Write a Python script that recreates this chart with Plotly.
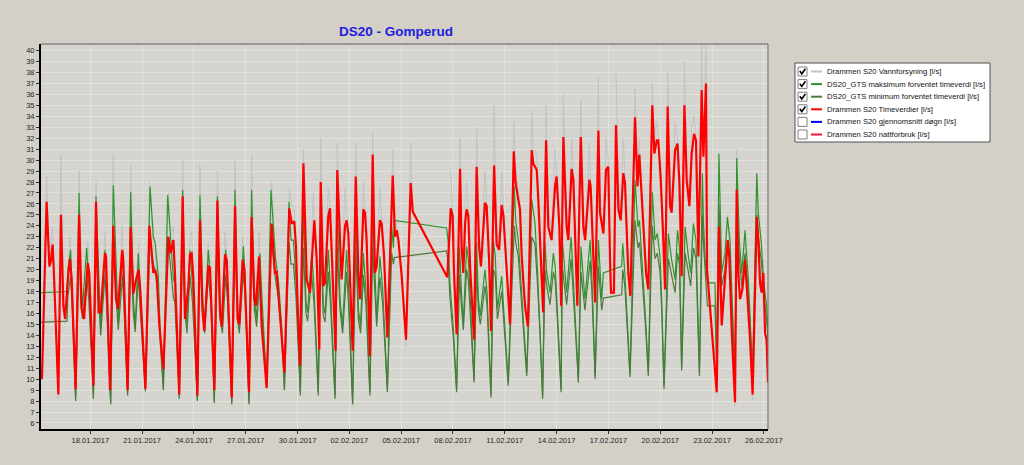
import plotly.graph_objects as go
from datetime import datetime, timedelta

# ---------------- DATA ----------------
# Time is given as a fractional day number: 1.0 = 01.01.2017 00:00, 32.0 = 01.02.2017 00:00
red_time = [
    15.20, 15.47, 15.63, 15.72, 15.82, 15.90,
    16.15, 16.30, 16.44, 16.54, 16.73, 16.82, 16.92,
    17.15, 17.35, 17.50, 17.64, 17.85, 17.94,
    18.18, 18.33, 18.48, 18.60, 18.85, 18.91,
    19.14, 19.33, 19.49, 19.60, 19.85, 19.91,
    20.16, 20.34, 20.49, 20.61, 20.80, 20.90,
    21.19, 21.42, 21.65, 21.75, 21.84, 22.00,
    22.23, 22.52, 22.65, 22.81, 22.90,
    23.15, 23.35, 23.48, 23.68, 23.77, 23.87, 23.97,
    24.20, 24.35, 24.49, 24.60, 24.83, 24.93,
    25.18, 25.36, 25.51, 25.61, 25.80, 25.90,
    26.19, 26.38, 26.53, 26.63, 26.82, 26.92,
    27.19, 27.34, 27.50, 27.59, 27.77, 27.92,
    28.21, 28.50, 28.69, 28.79, 28.98, 29.08,
    29.24, 29.52, 29.66, 29.81, 29.91, 30.00,
    30.14, 30.34, 30.53, 30.72, 30.91, 30.97, 31.11,
    31.26, 31.34, 31.49, 31.59, 31.78, 31.88, 31.98,
    32.20, 32.30, 32.46, 32.55, 32.75, 32.84, 32.94,
    33.19, 33.37, 33.52, 33.62, 33.81, 33.91, 34.00,
    34.19, 34.35, 34.48, 34.58, 34.77, 34.87, 35.01,
    35.20, 35.51, 35.64, 35.74, 35.84, 36.03, 36.16,
    36.28, 36.55, 36.67,
    38.67, 38.87, 38.98, 39.06,
    39.21, 39.41, 39.50, 39.60, 39.70, 39.79, 39.89, 39.99,
    40.22, 40.37, 40.51, 40.62, 40.85, 40.95, 41.09,
    41.20, 41.38, 41.53, 41.67, 41.82, 41.92, 42.05,
    42.30, 42.52, 42.62, 42.78, 42.88, 42.98, 43.17,
    43.34, 43.56, 43.65, 43.85, 43.94, 44.14,
    44.22, 44.39, 44.52, 44.71, 44.91, 45.00, 45.16,
    45.26, 45.39, 45.58, 45.68, 45.87, 45.97,
    46.20, 46.40, 46.55, 46.65, 46.90, 46.97,
    47.23, 47.42, 47.51, 47.71, 47.86, 47.99, 48.10, 48.15,
    48.32, 48.44, 48.58, 48.71, 48.86, 48.96, 49.15,
    49.27, 49.54, 49.68, 49.79, 49.87, 50.02, 50.18,
    50.31, 50.54, 50.66, 50.80, 50.89, 51.03, 51.18,
    51.28, 51.43, 51.57, 51.66, 51.86, 52.00, 52.11,
    52.24, 52.40, 52.53, 52.69, 52.82, 52.96, 53.07,
    53.21, 53.40, 53.50, 53.65, 53.71,
    54.27, 54.40, 54.56, 54.70, 54.91, 55.00, 55.15,
    55.33, 55.43, 55.52, 55.62, 55.76, 55.91, 56.01, 56.20,
    56.35, 56.59, 56.68, 56.78, 56.87, 56.97, 57.07, 57.16, 57.24,
]
# Drammen S20 Timeverdier [l/s]
red_value = [
    10.0, 26.2, 20.3, 20.8, 22.3, 19.4,
    8.6, 25.0, 16.7, 15.5, 19.7, 21.0, 19.1,
    9.1, 25.0, 16.4, 15.5, 20.6, 19.7,
    9.4, 26.2, 16.1, 16.1, 21.5, 21.2,
    9.0, 24.0, 17.3, 16.4, 21.8, 20.9,
    9.0, 23.9, 17.8, 18.8, 20.0, 18.0,
    9.1, 24.0, 19.7, 20.0, 19.4, 14.9,
    10.9, 23.0, 21.5, 22.7, 19.7,
    8.6, 26.7, 15.5, 18.5, 21.4, 21.5, 19.1,
    8.5, 24.5, 16.4, 14.4, 20.3, 20.2,
    9.0, 26.3, 16.1, 14.8, 21.4, 20.9,
    8.3, 25.8, 15.5, 15.0, 20.9, 20.0,
    8.8, 24.8, 17.3, 16.7, 21.2, 14.9,
    9.2, 24.2, 19.7, 19.8, 15.8, 13.6,
    10.6, 25.6, 24.2, 24.4, 22.1, 17.0,
    11.2, 29.7, 19.1, 17.9, 23.9, 24.5, 20.9,
    12.7, 28.0, 18.5, 18.8, 24.9, 25.6, 21.5,
    12.6, 29.1, 21.5, 19.1, 24.0, 24.5, 23.3,
    12.6, 28.5, 19.7, 17.3, 25.5, 25.2, 22.7,
    12.1, 30.5, 19.7, 20.3, 24.5, 24.2, 21.2,
    13.8, 28.6, 23.0, 23.6, 22.7, 19.4, 16.0,
    13.6, 27.9, 25.3,
    19.3, 25.6, 24.9, 19.7,
    14.1, 29.2, 22.1, 19.7, 24.2, 25.5, 24.9, 20.3,
    13.6, 29.4, 22.1, 20.3, 26.1, 25.8, 20.9,
    14.4, 29.5, 22.3, 21.8, 25.9, 24.9, 21.5,
    15.0, 30.8, 28.0, 26.4, 25.5, 21.2, 16.7,
    14.8, 30.9, 29.7, 29.1, 26.4, 19.1,
    16.1, 31.8, 23.9, 22.7, 27.6, 28.5, 23.9,
    16.7, 32.1, 23.9, 22.7, 29.2, 28.2,
    16.7, 32.1, 23.9, 22.7, 28.2, 27.6,
    17.0, 32.7, 25.2, 23.3, 29.1, 29.4, 20.3, 17.9,
    17.9, 33.2, 25.5, 24.5, 28.8, 27.9, 19.7,
    17.6, 33.9, 27.6, 30.5, 28.2, 24.2, 19.7,
    18.2, 35.0, 30.6, 31.8, 31.8, 28.2, 22.7,
    18.2, 34.9, 25.8, 25.2, 30.9, 31.5, 27.9,
    19.4, 35.0, 28.2, 25.8, 30.6, 32.4, 31.8,
    21.2, 36.4, 30.3, 37.0, 20.0,
    8.8, 23.9, 14.9, 18.0, 22.7, 21.2, 14.0,
    7.9, 27.3, 19.7, 17.3, 18.2, 20.9, 18.5, 13.6,
    8.6, 24.8, 22.7, 18.8, 17.9, 19.7, 14.2, 13.6, 9.7,
]
# Drammen S20 Vannforsyning [l/s] (same time stamps, None = no data)
grey_value = [
    10.0, 28.5, 21.0, 22.5, 24.0, 19.0,
    8.2, 30.5, 18.0, 15.0, 21.0, 23.0, 19.5,
    8.5, 29.0, 18.0, 16.0, 22.5, 20.0,
    9.0, 28.0, 17.5, 15.5, 23.5, 21.0,
    8.6, 30.5, 18.5, 16.0, 24.0, 21.0,
    8.5, 29.5, 18.5, 18.0, 22.5, 18.0,
    8.8, 28.0, 22.0, 21.5, 20.0, 14.5,
    10.5, 27.0, 23.0, 24.0, 20.0,
    8.2, 30.0, 17.0, 18.0, 23.0, 23.5, 19.0,
    8.0, 29.5, 18.0, 14.5, 22.5, 20.5,
    8.6, 29.0, 17.5, 15.0, 23.5, 21.0,
    8.0, 30.0, 17.0, 15.0, 23.0, 20.0,
    8.5, 30.5, 18.5, 16.5, 23.5, 15.5,
    9.0, 28.0, 21.5, 20.5, 16.0, 13.5,
    10.0, 27.5, 26.0, 25.5, 22.0, 17.0,
    10.5, 31.0, 21.0, 18.0, 27.0, 25.0, 21.0,
    12.0, 32.0, 20.5, 19.0, 27.5, 26.0, 21.5,
    12.0, 31.5, 23.0, 19.0, 27.5, 25.0, 23.0,
    12.0, 31.5, 21.5, 17.5, 28.0, 25.5, 22.5,
    11.5, 32.5, 21.5, 20.0, 27.5, 24.5, 21.0,
    13.0, 31.0, 25.0, 24.0, 23.0, 19.5, 16.0,
    13.0, 31.5, 25.5,
    None, 29.0, 25.0, 20.0,
    13.5, 32.0, 24.0, 20.0, 26.0, 28.0, 25.0, 20.5,
    13.0, 33.0, 24.0, 20.5, 29.0, 26.0, 21.0,
    13.8, 35.0, 24.0, 22.0, 29.0, 25.0, 21.5,
    14.5, 33.5, 29.5, 27.0, 26.0, 21.5, 16.5,
    14.2, 34.5, 31.0, 30.5, 27.0, 19.0,
    15.5, 35.0, 26.0, 23.0, 31.0, 29.0, 24.0,
    16.0, 36.0, 26.0, 23.0, 32.0, 28.5,
    16.0, 35.5, 26.0, 23.0, 31.5, 28.0,
    16.5, 37.5, 27.0, 23.5, 32.0, 30.0, 20.0, 17.5,
    None, 38.0, 27.5, 25.0, 32.0, 28.5, 20.0,
    17.0, 36.5, 29.5, 32.0, 28.5, 24.5, 19.5,
    17.5, 37.0, 32.0, 33.5, 32.0, 28.5, 22.5,
    17.5, 38.0, 28.0, 25.5, 33.5, 32.0, 28.0,
    18.5, 39.0, 30.0, 26.0, 33.0, 34.0, 32.0,
    20.5, 40.5, 31.0, 40.5, 20.0,
    None, 27.0, 15.0, 19.0, 25.0, 21.5, 14.0,
    7.5, 31.0, 21.0, 17.5, 19.0, 23.0, 18.5, 13.5,
    8.0, 28.0, 23.0, 19.5, 18.0, 21.0, 14.5, 13.0, 9.5,
]

green_time = [
    15.15, 16.65, 16.70, 16.86, 16.95,
    17.15, 17.35, 17.45, 17.55, 17.79, 17.92,
    18.18, 18.33, 18.52, 18.60, 18.85, 18.95,
    19.18, 19.33, 19.53, 19.62, 19.87, 19.96,
    20.16, 20.34, 20.49, 20.60, 20.78, 20.90,
    21.19, 21.46, 21.65, 21.75, 21.94, 22.04,
    22.23, 22.48, 22.65, 22.81, 22.90,
    23.15, 23.35, 23.48, 23.60, 23.77, 23.92,
    24.20, 24.35, 24.52, 24.62, 24.83, 24.98,
    25.18, 25.36, 25.51, 25.65, 25.84, 25.95,
    26.19, 26.38, 26.53, 26.63, 26.86, 26.96,
    27.19, 27.34, 27.50, 27.63, 27.82, 27.92,
    28.21, 28.46, 28.60, 28.73, 28.89, 29.08,
    29.24, 29.51, 29.62, 29.76, 29.91, 30.05,
    30.16, 30.34, 30.49, 30.58, 30.82, 30.95,
    31.20, 31.34, 31.49, 31.59, 31.78, 31.90,
    32.17, 32.30, 32.46, 32.61, 32.84, 32.94,
    33.19, 33.37, 33.52, 33.65, 33.81, 33.96,
    34.19, 34.35, 34.51, 34.58, 34.77, 34.93,
    35.20, 35.45, 35.55, 35.60,
    38.63, 38.73, 38.82, 39.01,
    39.21, 39.38, 39.50, 39.60, 39.79, 39.89,
    40.22, 40.37, 40.47, 40.58, 40.85, 40.97,
    41.20, 41.34, 41.45, 41.57, 41.82, 41.99,
    42.20, 42.55, 42.63, 42.78, 42.98, 43.12,
    43.27, 43.56, 43.75, 43.90, 44.04,
    44.19, 44.33, 44.43, 44.62, 44.81, 44.92,
    45.26, 45.33, 45.58, 45.84, 45.95,
    46.26, 46.41, 46.64, 46.94, 47.05,
    47.23, 47.42, 47.61, 47.71,
    48.77, 48.83, 48.95,
    49.25, 49.54, 49.71, 49.80, 49.98, 50.15,
    50.31, 50.54, 50.70, 50.83, 50.99, 51.09,
    51.22, 51.47, 51.66, 51.86, 52.00, 52.11,
    52.24, 52.44, 52.63, 52.76, 52.92, 53.07,
    53.27, 53.44, 53.50, 53.60, 53.73,
    54.17, 54.27, 54.40, 54.56, 54.75, 54.89, 55.04,
    55.33, 55.43, 55.58, 55.72, 55.91, 56.10,
    56.35, 56.59, 56.68, 56.87, 56.97, 57.16, 57.24,
]
# DS20_GTS maksimum forventet timeverdi [l/s]
green_max = [
    17.9, 18.0, 20.0, 21.8, 18.0,
    8.3, 27.0, 18.5, 16.7, 22.0, 18.5,
    8.5, 26.7, 17.3, 14.6, 21.8, 18.0,
    7.9, 27.7, 17.9, 15.2, 21.5, 17.5,
    8.8, 27.1, 17.3, 14.9, 21.5, 17.5,
    9.2, 27.6, 23.0, 22.5, 19.4, 14.5,
    9.2, 26.8, 23.0, 19.1, 18.8,
    8.5, 27.3, 17.0, 15.0, 21.8, 18.5,
    8.2, 26.8, 17.0, 15.0, 21.8, 18.5,
    8.0, 26.7, 16.5, 14.9, 21.8, 18.5,
    7.9, 27.3, 16.1, 14.9, 22.1, 19.5,
    7.9, 27.3, 17.3, 15.5, 21.5, 18.0,
    9.5, 27.3, 23.6, 20.9, 19.0, 14.9,
    9.2, 26.2, 22.7, 22.7, 19.1, 13.5,
    8.8, 26.0, 17.0, 16.1, 21.5, 18.5,
    8.8, 26.0, 16.7, 16.0, 21.8, 18.5,
    8.5, 26.0, 17.3, 14.9, 21.8, 18.8,
    7.9, 26.0, 16.4, 14.9, 21.5, 18.2,
    8.8, 26.0, 17.0, 15.5, 21.2, 18.2,
    9.1, 23.9, 22.0, 24.5,
    23.8, 22.4, 18.8, 14.9,
    9.1, 22.0, 17.6, 15.2, 22.1, 20.9,
    10.0, 22.5, 17.3, 15.8, 20.0, 18.0,
    8.6, 22.6, 21.2, 16.4, 19.4, 14.9,
    9.7, 27.6, 24.5, 22.7, 17.9, 14.9,
    10.6, 26.4, 24.2, 19.7, 14.9,
    8.5, 22.4, 19.7, 17.9, 21.5, 20.3,
    9.1, 22.7, 17.9, 23.0, 19.5,
    10.0, 22.1, 17.3, 22.7, 19.0,
    10.3, 22.7, 17.3, 19.7,
    20.3, 22.4, 19.7,
    10.5, 28.2, 23.9, 24.5, 20.0, 15.5,
    10.6, 27.1, 22.7, 23.3, 21.2, 17.0,
    9.4, 23.3, 20.9, 19.1, 23.6, 22.1,
    11.1, 23.9, 21.2, 19.7, 24.2, 22.7,
    10.6, 28.8, 24.5, 20.9, 18.8,
    18.8, 10.9, 30.6, 19.7, 21.5, 24.8, 22.7,
    10.0, 30.2, 22.7, 19.7, 23.6, 19.1,
    10.6, 28.8, 25.2, 22.1, 19.1, 16.7, 14.2,
]
# DS20_GTS minimum forventet timeverdi [l/s]
green_min = [
    15.2, 15.3, 17.5, 19.4, 16.5,
    8.0, 22.0, 17.0, 15.5, 19.5, 17.0,
    8.2, 22.0, 16.0, 14.0, 19.5, 16.5,
    7.7, 22.5, 16.5, 14.5, 19.5, 16.0,
    8.5, 22.0, 16.0, 14.3, 19.5, 16.0,
    8.9, 23.0, 20.5, 20.0, 17.5, 13.5,
    9.0, 23.0, 20.5, 17.5, 17.0,
    8.2, 22.5, 16.0, 14.2, 19.5, 17.0,
    8.0, 22.0, 16.0, 14.2, 19.5, 17.0,
    7.8, 22.0, 15.5, 14.2, 19.5, 17.0,
    7.7, 22.5, 15.3, 14.2, 19.8, 17.8,
    7.7, 22.5, 16.3, 14.8, 19.5, 16.5,
    9.2, 23.0, 21.0, 19.0, 17.5, 13.9,
    9.0, 22.5, 20.5, 20.5, 17.5, 12.5,
    8.5, 22.0, 16.0, 15.3, 19.5, 17.0,
    8.5, 22.0, 15.8, 15.2, 19.8, 17.0,
    8.2, 22.0, 16.3, 14.2, 19.8, 17.3,
    7.7, 22.0, 15.5, 14.2, 19.5, 16.8,
    8.5, 22.0, 16.0, 14.8, 19.3, 16.8,
    8.8, 21.5, 20.5, 21.1,
    21.7, 20.5, 17.5, 14.0,
    8.8, 19.5, 16.5, 14.5, 20.0, 19.0,
    9.7, 20.0, 16.3, 15.0, 18.5, 16.8,
    8.3, 20.0, 19.5, 15.5, 18.0, 14.2,
    9.4, 24.0, 22.5, 21.2, 16.8, 14.2,
    10.3, 23.0, 22.3, 18.5, 14.2,
    8.2, 20.0, 18.5, 16.8, 19.8, 19.0,
    8.8, 20.3, 16.8, 21.0, 18.2,
    9.7, 19.8, 16.3, 20.8, 17.8,
    10.0, 20.3, 16.3, 17.4,
    17.7, 20.0, 18.5,
    10.2, 24.5, 22.0, 22.5, 18.8, 14.8,
    10.3, 24.0, 21.0, 21.5, 19.8, 16.0,
    9.1, 21.0, 19.5, 17.9, 21.5, 20.5,
    10.8, 21.5, 19.8, 18.5, 22.0, 21.0,
    10.3, 25.0, 22.5, 19.5, 16.7,
    16.7, 10.6, 26.0, 18.5, 20.0, 22.5, 21.0,
    9.7, 26.0, 21.0, 18.5, 21.5, 18.0,
    10.3, 25.0, 23.0, 20.5, 18.0, 15.5, 13.5,
]

x_tick_days = [18, 21, 24, 27, 30, 33, 36, 39, 42, 45, 48, 51, 54, 57]
x_tick_labels = ["18.01.2017", "21.01.2017", "24.01.2017", "27.01.2017", "30.01.2017",
                 "02.02.2017", "05.02.2017", "08.02.2017", "11.02.2017", "14.02.2017",
                 "17.02.2017", "20.02.2017", "23.02.2017", "26.02.2017"]
y_ticks = list(range(6, 41))

legend_names = ["Drammen S20 Vannforsyning [l/s]",
                "DS20_GTS maksimum forventet timeverdi [l/s]",
                "DS20_GTS minimum forventet timeverdi [l/s]",
                "Drammen S20 Timeverdier [l/s]",
                "Drammen S20 gjennomsnitt døgn [l/s]",
                "Drammen S20 nattforbruk [l/s]"]
legend_checked = [True, True, True, True, False, False]

# ---------------- STYLE ----------------
C_GREY = "#c3c3c3"
C_GMAX = "#2c962c"
C_GMIN = "#4b7b3c"
C_RED = "#ff0000"
legend_colors = [C_GREY, C_GMAX, C_GMIN, C_RED, "#0000ff", "#ff1040"]
FONT = "Liberation Sans, Arial, sans-serif"

BASE = datetime(2016, 12, 31)


def to_dt(d):
    return BASE + timedelta(days=d)


fig = go.Figure()
fig.add_trace(go.Scatter(x=[to_dt(t) for t in red_time], y=grey_value, mode="lines",
                         line=dict(color=C_GREY, width=1), connectgaps=False,
                         name=legend_names[0], showlegend=False))
fig.add_trace(go.Scatter(x=[to_dt(t) for t in green_time], y=green_max, mode="lines",
                         line=dict(color=C_GMAX, width=1.2), name=legend_names[1], showlegend=False))
fig.add_trace(go.Scatter(x=[to_dt(t) for t in green_time], y=green_min, mode="lines",
                         line=dict(color=C_GMIN, width=1.2), name=legend_names[2], showlegend=False))
fig.add_trace(go.Scatter(x=[to_dt(t) for t in red_time], y=red_value, mode="lines",
                         line=dict(color=C_RED, width=2.2), name=legend_names[3], showlegend=False))

# plot area in pixels
L, R, T, B = 41, 768, 44, 429
W, H = 1024, 465


def fx(px):
    return (px - L) / (R - L)


def fy(py):
    return (B - py) / (B - T)


shapes = []
annotations = []

# frame top/right
shapes.append(dict(type="line", xref="paper", yref="paper", x0=0, x1=1, y0=1, y1=1,
                   line=dict(color="#5e5e5e", width=1)))
shapes.append(dict(type="line", xref="paper", yref="paper", x0=1, x1=1, y0=0, y1=1,
                   line=dict(color="#6a6a6a", width=1)))

# title
annotations.append(dict(text="<b>DS20 - Gomperud</b>", xref="paper", yref="paper",
                        x=fx(396), y=fy(31), xanchor="center", yanchor="middle", showarrow=False,
                        font=dict(family=FONT, size=13.5, color="#2020dd")))

# custom legend with check boxes
shapes.append(dict(type="rect", xref="paper", yref="paper", x0=fx(795), x1=fx(990),
                   y0=fy(142), y1=fy(63), fillcolor="white", line=dict(color="#505050", width=1)))
for i, (name, col, chk) in enumerate(zip(legend_names, legend_colors, legend_checked)):
    ry = 71.5 + i * 12.6
    shapes.append(dict(type="rect", xref="paper", yref="paper", x0=fx(798), x1=fx(807),
                       y0=fy(ry + 4.5), y1=fy(ry - 4.5), fillcolor="white",
                       line=dict(color="#808080", width=1)))
    if chk:
        path = "M {:.5f},{:.5f} L {:.5f},{:.5f} L {:.5f},{:.5f}".format(
            fx(799.8), fy(ry - 0.5), fx(801.8), fy(ry + 2.3), fx(805.4), fy(ry - 2.8))
        shapes.append(dict(type="path", xref="paper", yref="paper", path=path,
                           line=dict(color="black", width=1.6)))
    shapes.append(dict(type="line", xref="paper", yref="paper", x0=fx(811), x1=fx(822),
                       y0=fy(ry), y1=fy(ry), line=dict(color=col, width=2)))
    annotations.append(dict(text=name, xref="paper", yref="paper", x=fx(825.5), y=fy(ry),
                            xanchor="left", yanchor="middle", showarrow=False,
                            font=dict(family=FONT, size=7.7, color="#141414")))

fig.update_layout(
    width=W, height=H, autosize=False,
    margin=dict(l=L, r=W - R, t=T, b=H - B, pad=0),
    paper_bgcolor="#d4d0c8",
    plot_bgcolor="#d6d4cf",
    showlegend=False,
    shapes=shapes,
    annotations=annotations,
    xaxis=dict(
        type="date",
        range=[to_dt(15.145), to_dt(57.24)],
        tickmode="array",
        tickvals=[to_dt(d) for d in x_tick_days],
        ticktext=x_tick_labels,
        showgrid=True, gridcolor="#e2e0dc", gridwidth=1,
        showline=True, linecolor="black", linewidth=2,
        ticks="outside", ticklen=3, tickcolor="#333333",
        tickfont=dict(family=FONT, size=7.5, color="#1e1e1e"),
        zeroline=False,
    ),
    yaxis=dict(
        range=[5.45, 40.6],
        tickmode="array",
        tickvals=y_ticks,
        ticktext=[str(v) for v in y_ticks],
        showgrid=True, gridcolor="#e3e1dd", gridwidth=1,
        showline=True, linecolor="black", linewidth=2,
        ticks="outside", ticklen=3, tickcolor="#333333",
        tickfont=dict(family=FONT, size=7.5, color="#1e1e1e"),
        zeroline=False,
    ),
)

fig.write_html("out.html")
